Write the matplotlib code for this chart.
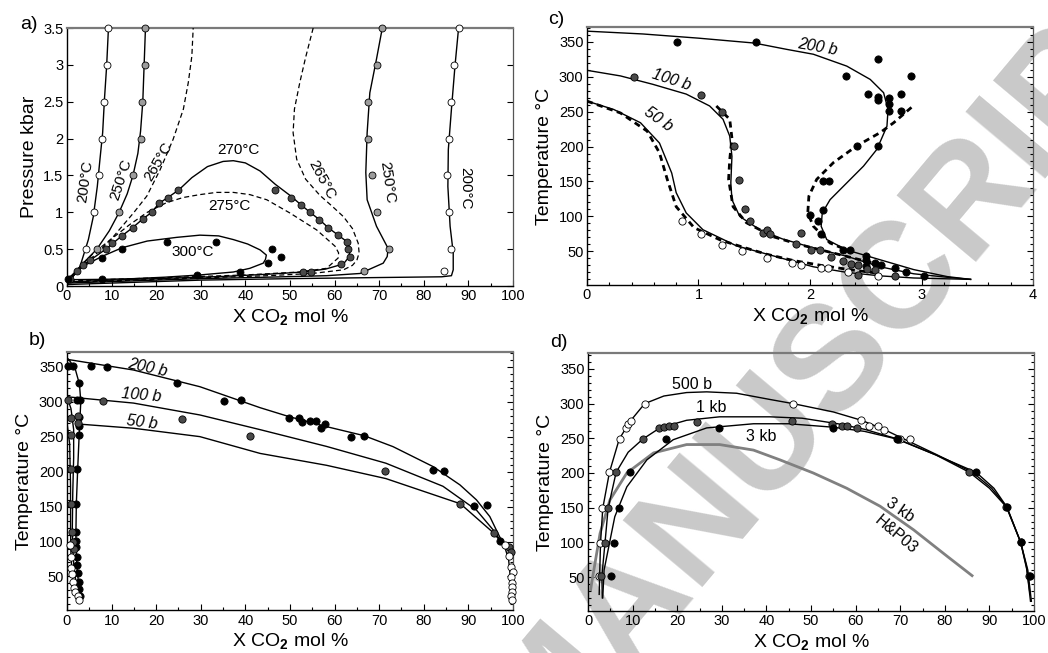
import matplotlib
matplotlib.use("Agg")
import matplotlib.pyplot as plt
from matplotlib.ticker import MultipleLocator, FuncFormatter

plt.rcParams['font.family'] = ['Liberation Sans', 'DejaVu Sans']
plt.rcParams['mathtext.fontset'] = 'custom'
plt.rcParams['mathtext.rm'] = 'Liberation Sans'
plt.rcParams['mathtext.bf'] = 'Liberation Sans:bold'

# ---------------- Panel a: P-X isotherms (x = mol% CO2, y = kbar) ----------------
a200L_x = [0.0, 1.0, 2.9, 4.8, 5.9, 6.8, 7.4, 8.0, 8.4, 8.9, 9.3]
a200L_y = [0.02, 0.1, 0.26, 0.63, 0.94, 1.35, 1.72, 2.08, 2.53, 2.99, 3.5]
a250L_x = [0.0, 1.5, 3.5, 6.7, 9.5, 11.7, 13.5, 14.8, 15.9, 16.5, 17.0, 17.3, 17.6]
a250L_y = [0.04, 0.15, 0.3, 0.5, 0.75, 1.0, 1.25, 1.5, 1.8, 2.1, 2.5, 3.0, 3.5]
a265L_x = [0.0, 2.0, 5.0, 8.0, 10.4, 14.9, 17.9, 20.9, 23.8, 26.1, 27.2, 28.0, 28.3]
a265L_y = [0.05, 0.17, 0.35, 0.52, 0.67, 0.99, 1.22, 1.58, 1.99, 2.40, 2.76, 3.12, 3.5]
a270_x = [0.0, 2.2, 3.7, 5.2, 8.7, 12.3, 14.7, 17.0, 19.0, 20.6, 22.6, 25.0, 28.0, 31.5, 35.0,
          37.3, 40.0, 43.3, 46.7, 50.2, 52.5, 54.5, 56.6, 58.6, 60.8, 62.8, 63.4, 63.3, 62.0,
          58.0, 53.0, 45.0, 35.0, 20.0, 10.0, 0.0]
a270_y = [0.055, 0.2, 0.29, 0.35, 0.5, 0.68, 0.79, 0.91, 1.0, 1.12, 1.20, 1.30, 1.47, 1.62, 1.69,
          1.70, 1.67, 1.56, 1.38, 1.22, 1.10, 1.0, 0.90, 0.79, 0.69, 0.60, 0.50, 0.40, 0.30,
          0.23, 0.19, 0.16, 0.13, 0.10, 0.08, 0.055]
a275_x = [0.0, 3, 6, 10, 14, 18, 22.3, 26, 29.8, 33.5, 37.3, 41, 44.8, 50.0, 56.0, 60.1, 60.9,
          60.8, 58.2, 52, 40, 25, 10, 0]
a275_y = [0.065, 0.27, 0.45, 0.64, 0.83, 1.0, 1.13, 1.2, 1.24, 1.27, 1.27, 1.24, 1.17, 0.99, 0.76,
          0.54, 0.45, 0.38, 0.24, 0.19, 0.15, 0.12, 0.09, 0.065]
a300_x = [0.0, 3, 7.8, 12.4, 18, 24.6, 29.8, 34, 37.3, 40.5, 43.3, 44.7, 44.5, 44.0, 41, 37.3,
          29.8, 22, 14.9, 7.8, 0]
a300_y = [0.086, 0.25, 0.40, 0.52, 0.61, 0.66, 0.69, 0.68, 0.63, 0.57, 0.49, 0.42, 0.36, 0.31,
          0.24, 0.19, 0.15, 0.12, 0.10, 0.09, 0.086]
a265R_x = [55.2, 53.5, 52.2, 51.0, 50.7, 51.5, 53.5, 56.7, 59.5, 62.0, 64.0, 65.3, 65.5, 65.0,
           64.0, 62.0, 55, 45, 30, 15, 0]
a265R_y = [3.5, 3.1, 2.76, 2.4, 2.08, 1.72, 1.45, 1.23, 1.08, 0.94, 0.78, 0.58, 0.45, 0.35,
           0.28, 0.22, 0.17, 0.14, 0.11, 0.08, 0.05]
a250R_x = [70.7, 69.4, 67.9, 67.3, 67.0, 67.3, 69.4, 72.0, 71.8, 70.9, 65.7, 58.2, 45, 30, 15, 0]
a250R_y = [3.5, 3.08, 2.62, 2.08, 1.54, 1.17, 0.81, 0.51, 0.40, 0.31, 0.17, 0.14, 0.12, 0.1,
           0.07, 0.04]
a200R_x = [87.8, 87.0, 86.2, 85.5, 85.4, 85.9, 86.6, 86.6, 86.2, 84, 70, 50, 30, 15, 0]
a200R_y = [3.5, 2.99, 2.40, 1.85, 1.35, 0.81, 0.45, 0.22, 0.14, 0.125, 0.115, 0.1, 0.08, 0.05, 0.02]

a_white_x = [9.3, 8.9, 8.2, 7.9, 7.1, 6.0, 4.3, 87.8, 86.8, 86.2, 85.6, 85.1, 85.6, 86.2, 84.5]
a_white_y = [3.5, 3.0, 2.5, 2.0, 1.5, 1.0, 0.5, 3.5, 3.0, 2.5, 2.0, 1.5, 1.0, 0.5, 0.2]
a_light_x = [17.5, 17.4, 16.9, 16.5, 14.7, 11.7, 6.7, 70.7, 69.4, 67.6, 67.6, 68.5, 69.4, 72.1, 66.5]
a_light_y = [3.5, 3.0, 2.5, 2.0, 1.5, 1.0, 0.5, 3.5, 3.0, 2.5, 2.0, 1.5, 1.0, 0.5, 0.2]
a_dark_x = [0.7, 2.2, 3.7, 5.2, 8.7, 10.2, 12.3, 14.7, 17.0, 19.0, 20.6, 22.6, 25.0, 46.7, 50.2,
            52.5, 54.5, 56.6, 58.6, 60.8, 62.8, 63.1, 63.5, 61.4, 53.0, 54.7]
a_dark_y = [0.1, 0.2, 0.29, 0.35, 0.5, 0.59, 0.68, 0.79, 0.91, 1.0, 1.12, 1.20, 1.30, 1.30, 1.20,
            1.10, 1.0, 0.90, 0.79, 0.69, 0.60, 0.50, 0.40, 0.30, 0.195, 0.195]
a_black_x = [0.3, 7.8, 7.8, 12.4, 22.4, 33.4, 29.1, 38.8, 45.1, 46.0, 48.0]
a_black_y = [0.1, 0.09, 0.38, 0.5, 0.6, 0.6, 0.15, 0.19, 0.31, 0.5, 0.4]

# ---------------- Panel b: T-X at 200, 100, 50 bar (0-100 mol%) ----------------
b200_x = [0, 14.9, 29.8, 43.3, 49.8, 58.2, 66.6, 73.1, 82.1, 88.1, 91.8, 94.8, 96.6, 98.1]
b200_y = [360.6, 345.3, 321.4, 291.4, 278.6, 264.3, 251.4, 235.7, 207.1, 181, 159.6, 135.7, 112, 93]
b100_x = [0, 14.9, 29.8, 43.3, 58.2, 71.5, 84.3, 91.8, 95.5, 98.1]
b100_y = [307, 298, 281, 260, 236, 212, 179, 145, 117, 93]
b50_x = [2.6, 14.9, 29.8, 43.3, 58.2, 71.5, 88.2, 95.7, 98.1, 99.0, 99.4, 99.6]
b50_y = [268, 262, 250, 226, 209, 190, 154, 112, 93, 75, 50, 20]
bL200_x = [0.3, 1.8, 2.8, 3.1, 2.8, 2.4, 2.1, 2.0, 2.2, 2.6, 3.0]
bL200_y = [361, 348, 325, 300, 262, 203, 154, 110, 66, 40, 17]
bL100_x = [0.0, 0.9, 1.5, 1.5, 1.3, 1.2, 1.3, 1.6, 2.2, 2.8]
bL100_y = [307, 290, 260, 220, 170, 120, 90, 60, 35, 18]
bL50_x = [0.0, 0.6, 0.8, 0.8, 0.9, 1.2, 1.8, 2.6]
bL50_y = [270, 240, 180, 120, 80, 50, 30, 17]

b_black_x = [0.3, 1.3, 2.6, 2.2, 3.0, 2.6, 2.7, 2.7, 2.3, 2.0, 2.0, 2.1, 2.1, 2.2, 2.3, 2.4, 2.6,
             2.7, 2.9, 5.5, 9.0, 24.6, 35.2, 39.0, 49.8, 52.0, 52.8, 54.6, 55.9, 57.9, 57.0,
             63.7, 66.6, 82.0, 84.6, 91.2, 94.2, 97.0]
b_black_y = [351, 351, 327, 303, 303, 278, 265, 252, 203, 154, 114, 101, 92, 78, 66, 55, 42, 32,
             22, 351, 350, 326, 301, 302, 276, 276, 271, 273, 273, 268, 262, 250, 251, 202, 201,
             151, 152, 101]
b_dark_x = [0.3, 0.9, 0.9, 1.0, 1.0, 1.2, 1.3, 1.5, 2.4, 2.5, 8.0, 25.7, 41.0, 71.4, 88.2, 95.7,
            99.2, 99.5]
b_dark_y = [303, 277, 253, 203, 154, 114, 100, 90, 280, 270, 301, 275, 251, 201, 154, 112, 92, 85]
b_white_x = [0.75, 0.9, 0.9, 1.1, 1.3, 1.6, 1.9, 2.4, 2.6, 98.2, 99.0, 99.6, 99.9, 99.6, 99.8, 99.8,
             99.8, 99.6, 99.7]
b_white_y = [95, 78, 62, 53, 42, 33, 28, 22, 17, 95, 79, 63, 56, 49, 41, 35, 28, 22, 17]

# ---------------- Panel c: T-X water-rich side (0-4 mol%) ----------------
c200_x = [0.0, 0.5, 1.0, 1.5, 1.79, 2.03, 2.33, 2.54, 2.66, 2.70, 2.69, 2.60, 2.48, 2.33, 2.18,
          2.11, 2.10, 2.15, 2.33, 2.63, 2.93, 3.23, 3.44]
c200_y = [365, 361, 355, 348, 339, 332, 315, 296, 277, 253, 229, 196, 172, 148, 124, 105, 86, 67,
          52, 38, 24, 14, 10]
c200d_x = [2.91, 2.75, 2.63, 2.42, 2.21, 2.06, 1.99, 1.98, 2.03, 2.18, 2.33]
c200d_y = [256, 234, 220, 201, 177, 153, 129, 105, 86, 62, 52]
c100_x = [0.0, 0.30, 0.59, 0.89, 1.10, 1.22, 1.28, 1.30, 1.29, 1.30, 1.37, 1.55, 1.75, 2.03, 2.33,
          2.63, 2.93, 3.23, 3.44]
c100_y = [309, 301, 289, 275, 258, 239, 215, 186, 148, 124, 100, 81, 68, 55, 43, 28, 18, 13, 10]
c100d_x = [1.16, 1.28, 1.30, 1.28, 1.27, 1.31, 1.43, 1.67, 1.90, 2.10, 2.35, 2.60]
c100d_y = [258, 239, 212, 181, 153, 114, 91, 71, 60, 52, 42, 32]
c50_x = [0.0, 0.24, 0.48, 0.65, 0.76, 0.80, 0.89, 1.04, 1.34, 1.64, 1.82, 2.03, 2.33, 2.63, 2.93, 3.44]
c50_y = [265, 253, 234, 205, 162, 134, 105, 81, 58, 45, 37, 28, 20, 15, 12, 10]
c50d_x = [0.0, 0.30, 0.54, 0.65, 0.72, 0.80, 0.96, 1.20, 1.40, 1.61, 1.85, 2.10, 2.35, 2.60]
c50d_y = [265, 248, 222, 191, 153, 114, 84, 66, 56, 46, 37, 30, 24, 19]

c_black_x = [0.81, 1.52, 2.61, 2.32, 2.91, 2.52, 2.61, 2.61, 2.71, 2.71, 2.71, 2.82, 2.82, 2.42,
             2.61, 2.12, 2.17, 2.12, 2.00, 2.07, 2.10, 2.30, 2.36, 2.50, 2.50, 2.58, 2.64, 2.50,
             2.76, 2.86, 3.02]
c_black_y = [350, 350, 325, 301, 301, 275, 271, 267, 270, 261, 251, 275, 251, 201, 201, 150, 150,
             109, 102, 94, 75, 52, 52, 43, 38, 33, 31, 29, 26, 20, 15]
c_dark_x = [0.42, 1.02, 1.21, 1.32, 1.36, 1.42, 1.46, 1.58, 1.61, 1.64, 1.92, 1.87, 2.01, 2.09,
            2.19, 2.30, 2.37, 2.43, 2.51, 2.43, 2.76, 2.58]
c_dark_y = [300, 274, 250, 201, 152, 110, 94, 76, 81, 75, 76, 61, 52, 52, 42, 36, 32, 31, 25, 16,
            15, 24]
c_white_x = [0.85, 1.02, 1.21, 1.39, 1.61, 1.84, 1.92, 2.10, 2.16, 2.34, 2.61]
c_white_y = [94, 75, 59, 51, 41, 33, 31, 26, 26, 21, 15]

# ---------------- Panel d: T-X at 500 b, 1 kb, 3 kb ----------------
d500_x = [2.5, 2.6, 2.8, 3.3, 4.8, 7.0, 9.5, 12.7, 17, 22.1, 26.6, 33.3, 40.8, 46, 55, 61.3, 66.3,
          70.5, 78, 86.2, 90.5, 93.9, 97.0, 98.3, 99.0]
d500_y = [25, 51, 99, 149, 201, 249, 275, 300, 311, 316, 317, 315, 306, 300, 288, 276, 263, 250,
          227, 201, 178, 151, 100, 65, 30]
d1k_x = [3.2, 3.1, 3.8, 4.5, 6.3, 9, 12.3, 16.1, 22.1, 29.5, 40.8, 48, 56, 62, 69.4, 78, 85.5, 90,
         93.8, 97.0, 98.4, 99.2]
d1k_y = [20, 51, 99, 149, 201, 230, 249, 265, 276, 281, 281, 279, 271, 263, 249, 226, 201, 178,
         151, 100, 60, 15]
d3k_x = [3.3, 3.6, 4.5, 6.0, 8.7, 13.2, 19.1, 26.6, 37.1, 45, 55, 62, 69.2, 78, 87, 91, 93.9, 97.0,
         98.6, 99.4]
d3k_y = [20, 60, 89, 137, 180, 219, 248, 265, 271, 271, 266, 260, 249, 226, 201, 178, 151, 100, 60, 15]
dhp_x = [0.6, 0.8, 2.7, 4.9, 8.7, 14.7, 22.1, 29.5, 37.1, 43, 50.5, 58, 65.5, 73, 80.5, 86.1]
dhp_y = [32, 41, 113, 161, 200, 229, 241, 241, 233, 219, 200, 178, 152, 118, 80, 52]

d_white_x = [2.4, 2.7, 3.2, 4.7, 7.1, 8.5, 8.9, 9.6, 12.7, 46.0, 61.3, 63.1, 65.1, 66.3, 70.0, 72.2]
d_white_y = [51, 99, 149, 201, 249, 265, 270, 275, 300, 300, 276, 268, 268, 262, 249, 249]
d_dark_x = [3.0, 3.8, 4.5, 6.3, 12.3, 15.9, 17.1, 18.2, 19.3, 24.4, 45.8, 54.6, 56.9, 58.0, 60.2,
            69.4, 85.5, 93.8, 97.0, 98.8]
d_dark_y = [51, 99, 149, 201, 249, 265, 267, 268, 268, 274, 275, 271, 268, 268, 265, 249, 201, 151,
            100, 52]
d_black_x = [5.1, 5.8, 6.9, 9.3, 17.5, 29.3, 55.0, 69.2, 87.0, 93.9, 97.0, 99.0]
d_black_y = [51, 99, 149, 201, 249, 265, 265, 249, 201, 151, 100, 52]

WHITE, LIGHT, DARK, BLACK = 'white', '#9c9c9c', '#4a4a4a', 'black'
XLABEL = r'X CO$_{\mathbf{2}}$ mol %'

fig = plt.figure(figsize=(10.48, 6.53), dpi=100)

# watermark behind axes
fig.text(0.825, 0.414, 'MANUSCRIPT', rotation=50, rotation_mode='anchor', ha='center',
         va='baseline', fontsize=108, fontweight='bold', color='#c9c9c9', zorder=-1)


def style(ax, xlim, ylim, xmaj, xmin, ymaj, ymin, fmt='%g'):
    ax.set_facecolor('none')
    ax.set_xlim(*xlim)
    ax.set_ylim(*ylim)
    ax.xaxis.set_major_locator(MultipleLocator(xmaj))
    ax.xaxis.set_minor_locator(MultipleLocator(xmin))
    ax.yaxis.set_major_locator(MultipleLocator(ymaj))
    ax.yaxis.set_minor_locator(MultipleLocator(ymin))
    ax.yaxis.set_major_formatter(FuncFormatter(lambda v, p: fmt % v))
    ax.tick_params(which='both', direction='in', top=False, right=True, labelsize=10.5,
                   width=0.8, pad=2.5)
    ax.tick_params(which='major', length=4.5)
    ax.tick_params(which='minor', length=2.5)
    ax.spines['top'].set_color('#7a7a7a')
    ax.spines['top'].set_linewidth(1.6)
    ax.spines['right'].set_color('#555555')
    ax.spines['right'].set_linewidth(0.9)
    for s in ('left', 'bottom'):
        ax.spines[s].set_linewidth(1.0)
    ax.set_xlabel(XLABEL, fontsize=14, labelpad=3)


def pts(ax, x, y, c, ms=5.2):
    ax.plot(x, y, 'o', ls='none', mfc=c, mec='black', mew=0.6, ms=ms, zorder=4, clip_on=False)


def line(ax, x, y, **kw):
    kw.setdefault('color', 'black')
    kw.setdefault('lw', 1.0)
    ax.plot(x, y, zorder=3, **kw)


# ---------- a ----------
axa = fig.add_axes([0.0639, 0.562, 0.4256, 0.3951])
style(axa, (0, 100), (0, 3.5), 10, 5, 0.5, 0.5)
axa.set_ylabel('Pressure kbar', fontsize=14, labelpad=4)
for xx, yy in [(a200L_x, a200L_y), (a250L_x, a250L_y), (a270_x, a270_y), (a300_x, a300_y),
               (a250R_x, a250R_y), (a200R_x, a200R_y)]:
    line(axa, xx, yy)
for xx, yy in [(a265L_x, a265L_y), (a275_x, a275_y), (a265R_x, a265R_y)]:
    line(axa, xx, yy, lw=0.9, dashes=(4, 2.5))
pts(axa, a_white_x, a_white_y, WHITE, 5)
pts(axa, a_light_x, a_light_y, LIGHT, 5)
pts(axa, a_dark_x, a_dark_y, DARK, 5)
pts(axa, a_black_x, a_black_y, BLACK, 5)
lab = dict(fontsize=11, ha='center', va='center')
axa.text(4.0, 1.42, '200°C', rotation=82, **lab)
axa.text(12.1, 1.44, '250°C', rotation=72, **lab)
axa.text(20.4, 1.69, '265°C', rotation=60, **lab)
axa.text(38.4, 1.85, '270°C', **lab)
axa.text(36.5, 1.08, '275°C', **lab)
axa.text(28.3, 0.46, '300°C', **lab)
axa.text(57.2, 1.44, '265°C', rotation=-62, **lab)
axa.text(71.7, 1.40, '250°C', rotation=-82, **lab)
axa.text(89.2, 1.33, '200°C', rotation=-90, **lab)
fig.text(0.019, 0.963, 'a)', fontsize=14, ha='left', va='center')

# ---------- c ----------
axc = fig.add_axes([0.5601, 0.5636, 0.4256, 0.3951])
style(axc, (0, 4), (2, 371), 1, 0.2, 50, 10)
axc.set_ylabel('Temperature °C', fontsize=14, labelpad=4)
line(axc, c200_x, c200_y)
line(axc, c100_x, c100_y)
line(axc, c50_x, c50_y)
for xx, yy in [(c200d_x, c200d_y), (c100d_x, c100d_y), (c50d_x, c50d_y)]:
    line(axc, xx, yy, lw=2.0, dashes=(2.2, 1.6))
pts(axc, c_black_x, c_black_y, BLACK)
pts(axc, c_dark_x, c_dark_y, DARK)
pts(axc, c_white_x, c_white_y, WHITE)
labi = dict(fontsize=11.5, ha='center', va='center', style='italic')
axc.text(2.07, 342, '200 b', rotation=-10, **labi)
axc.text(0.76, 295, '100 b', rotation=-18, **labi)
axc.text(0.64, 239, '50 b', rotation=-35, **labi)
fig.text(0.523, 0.970, 'c)', fontsize=14, ha='left', va='center')

# ---------- b ----------
axb = fig.add_axes([0.0639, 0.0658, 0.4256, 0.3951])
style(axb, (0, 100), (2, 371), 10, 5, 50, 10)
axb.set_ylabel('Temperature °C', fontsize=14, labelpad=4)
for xx, yy in [(b200_x, b200_y), (b100_x, b100_y), (b50_x, b50_y), (bL200_x, bL200_y),
               (bL100_x, bL100_y), (bL50_x, bL50_y)]:
    line(axb, xx, yy)
pts(axb, b_black_x, b_black_y, BLACK)
pts(axb, b_dark_x, b_dark_y, DARK)
pts(axb, b_white_x, b_white_y, WHITE)
axb.text(18.1, 348, '200 b', rotation=-12, **labi)
axb.text(16.6, 309, '100 b', rotation=-5, **labi)
axb.text(16.9, 270, '50 b', rotation=-7, **labi)
fig.text(0.027, 0.479, 'b)', fontsize=14, ha='left', va='center')

# ---------- d ----------
axd = fig.add_axes([0.5611, 0.0643, 0.4256, 0.3951])
style(axd, (0, 100), (1, 373), 10, 5, 50, 10)
axd.set_ylabel('Temperature °C', fontsize=14, labelpad=4)
line(axd, dhp_x, dhp_y, color='#808080', lw=2.0)
line(axd, d500_x, d500_y)
line(axd, d1k_x, d1k_y)
line(axd, d3k_x, d3k_y)
pts(axd, d_white_x, d_white_y, WHITE)
pts(axd, d_dark_x, d_dark_y, DARK)
pts(axd, d_black_x, d_black_y, BLACK)
labd = dict(fontsize=11.5, ha='center', va='center')
axd.text(23.4, 327, '500 b', **labd)
axd.text(27.6, 294, '1 kb', **labd)
axd.text(38.8, 252, '3 kb', **labd)
axd.text(70.0, 147, '3 kb', rotation=-35, **labd)
axd.text(69.1, 111, 'H&P03', rotation=-40, **labd)
fig.text(0.525, 0.476, 'd)', fontsize=14, ha='left', va='center')

fig.savefig('out.png', dpi=100)
